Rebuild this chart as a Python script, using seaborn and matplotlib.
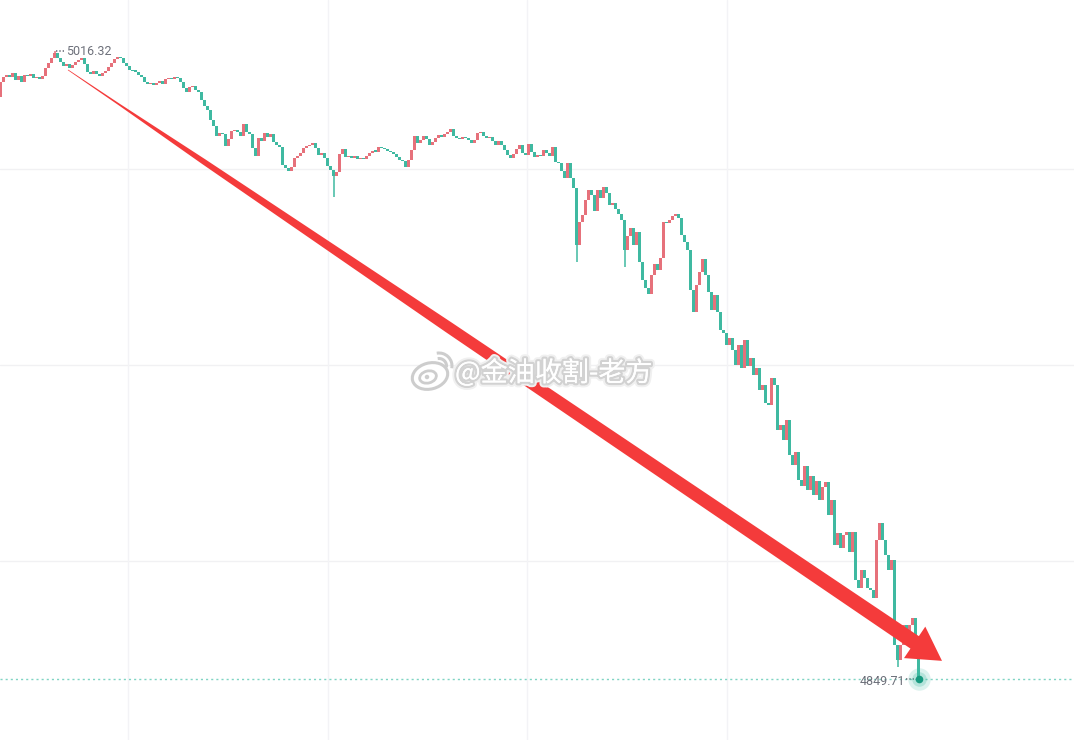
import numpy as np
import pandas as pd
import matplotlib
matplotlib.use("Agg")
import matplotlib.pyplot as plt
import matplotlib.patheffects as pe
from matplotlib.patches import Polygon, Ellipse, Arc
from matplotlib.transforms import IdentityTransform
import seaborn as sns

# ---- datos ----
first_open = 5004.1
closes = [
    5008.1, 5009.4, 5010.0, 5009.4, 5010.5, 5008.6, 5009.7, 5008.1, 5010.0, 5009.7,
    5010.2, 5009.2, 5009.4, 5008.9, 5009.7, 5011.8, 5013.1, 5014.5, 5015.8, 5014.5,
    5013.4, 5012.3, 5012.9, 5011.8, 5012.6, 5013.4, 5013.9, 5014.5, 5012.9, 5010.8,
    5010.2, 5011.0, 5010.2, 5009.7, 5010.5, 5011.0, 5012.1, 5013.1, 5014.2, 5014.7,
    5014.5, 5013.1, 5012.3, 5011.3, 5011.0, 5010.8, 5010.0, 5009.4, 5008.1, 5007.6,
    5007.8, 5007.3, 5007.8, 5008.4, 5007.6, 5008.9, 5009.2, 5008.9, 5009.4, 5009.2,
    5008.1, 5006.5, 5005.4, 5006.8, 5007.0, 5006.0, 5005.4, 5003.3, 5001.7, 5000.7,
    4998.0, 4996.4, 4993.8, 4994.6, 4994.3, 4991.1, 4993.0, 4995.1, 4995.4, 4994.8,
    4993.8, 4997.0, 4994.8, 4994.3, 4990.6, 4988.5, 4993.2, 4992.4, 4994.6, 4993.5,
    4994.3, 4992.2, 4991.4, 4990.9, 4986.1, 4985.3, 4984.5, 4985.5, 4987.9, 4988.5,
    4989.3, 4990.6, 4991.1, 4991.4, 4991.9, 4990.6, 4988.7, 4989.3, 4987.9, 4985.8,
    4984.8, 4983.2, 4984.2, 4989.0, 4990.3, 4988.2, 4988.5, 4987.9, 4988.5, 4987.7,
    4987.9, 4987.7, 4988.5, 4989.3, 4989.8, 4989.6, 4990.9, 4990.6, 4990.3, 4989.8,
    4989.5, 4989.0, 4988.2, 4987.4, 4987.1, 4985.5, 4987.4, 4990.1, 4993.8, 4991.9,
    4992.7, 4993.8, 4993.0, 4991.4, 4992.2, 4993.2, 4994.0, 4993.5, 4994.3, 4994.8,
    4995.6, 4993.8, 4993.2, 4993.0, 4993.5, 4993.2, 4992.7, 4991.9, 4992.7, 4994.6,
    4994.8, 4993.8, 4993.2, 4993.5, 4992.4, 4991.4, 4992.4, 4991.4, 4990.1, 4988.7,
    4987.9, 4989.0, 4990.3, 4991.4, 4989.3, 4988.7, 4991.6, 4989.5, 4988.2, 4988.7,
    4988.5, 4990.1, 4989.3, 4988.5, 4990.9, 4986.9, 4986.6, 4984.5, 4982.6, 4986.6,
    4982.6, 4980.0, 4964.9, 4971.0, 4972.8, 4976.8, 4979.4, 4978.1, 4973.9, 4979.4,
    4977.3, 4980.2, 4978.7, 4975.5, 4976.0, 4974.4, 4973.1, 4971.5, 4963.5, 4967.2,
    4969.4, 4964.9, 4968.3, 4960.3, 4955.6, 4953.4, 4951.9, 4956.9, 4959.8, 4958.2,
    4961.4, 4971.0, 4970.6, 4971.5, 4972.5, 4973.1, 4972.0, 4967.5, 4965.6, 4963.5,
    4952.9, 4947.1, 4954.2, 4957.7, 4961.1, 4956.9, 4952.4, 4947.6, 4951.6, 4947.1,
    4942.3, 4941.5, 4938.3, 4940.2, 4937.0, 4933.0, 4938.3, 4932.2, 4939.7, 4932.8,
    4934.9, 4930.4, 4932.2, 4926.4, 4927.7, 4922.9, 4922.4, 4929.6, 4927.7, 4915.8,
    4917.1, 4913.1, 4918.4, 4909.1, 4906.5, 4909.9, 4902.5, 4900.9, 4906.2, 4899.9,
    4903.6, 4898.5, 4902.2, 4897.2, 4900.6, 4902.0, 4893.2, 4897.2, 4885.3, 4888.4,
    4884.5, 4887.9, 4888.7, 4883.4, 4888.7, 4876.0, 4873.9, 4878.6, 4876.5, 4873.9,
    4873.3, 4871.2, 4886.6, 4891.1, 4886.6, 4882.6, 4878.6, 4881.3, 4858.7, 4854.8,
    4858.7, 4864.0, 4860.1, 4864.0, 4865.9, 4860.6, 4849.71,
]
# mechas largas
high_idx = [18]
high_val = [5016.32]
low_idx = [111, 192, 208, 299]
low_val = [4977.6, 4960.3, 4959.0, 4852.9]

grid_prices = [4985.0, 4933.0, 4881.0]
grid_idx = [42.5, 109.0, 175.5, 242.0]

hi_label = "5016.32"
lo_label = "4849.71"
watermark = "@金油收割-老方"

arrow_start = (22.5, 5011.3)
arrow_tip = (313.8, 4854.5)

color_up = "#e6717b"
color_down = "#3fb9a1"
label_color = "#6d707a"

# ---- preparar ----
df = pd.DataFrame({"close": closes})
df["open"] = [first_open] + closes[:-1]
df["high"] = df[["open", "close"]].max(axis=1)
df["low"] = df[["open", "close"]].min(axis=1)
df.loc[high_idx, "high"] = high_val
df.loc[low_idx, "low"] = low_val
df["x"] = np.arange(len(df))
df["color"] = np.where(df["close"] > df["open"], color_up, color_down)

sns.set_theme(style="white")
plt.rcParams["font.family"] = ["Noto Sans CJK SC", "DejaVu Sans"]

fig = plt.figure(figsize=(10.74, 7.40), dpi=100)
ax = fig.add_axes([0, 0, 1, 1])
ax.set_xlim(-0.17, 357.8)
ax.set_ylim(4833.5, 5029.85)
ax.axis("off")

for p in grid_prices:
    ax.axhline(p, color="#f1f1f3", lw=1, zorder=0)
for g in grid_idx:
    ax.axvline(g, color="#f3f3f6", lw=1, zorder=0)

# velas
body = (df["close"] - df["open"]).abs().clip(lower=0.35)
ax.vlines(df["x"], df["low"], df["high"], colors=df["color"], lw=1.1, zorder=2)
ax.bar(df["x"], body, bottom=df[["open", "close"]].min(axis=1), width=0.86,
       color=df["color"], linewidth=0, zorder=3)

# línea de precio actual
last = df.iloc[-1]
ax.axhline(last["close"], color="#7fd4c3", lw=1, dashes=(1.5, 2.2), zorder=1)

# etiquetas max / min
ax.plot([df["x"][high_idx[0]] + 0.6, 21.4], [high_val[0]] * 2, color=label_color,
        lw=1.2, dashes=(0.8, 1.2), zorder=4)
ax.text(21.8, high_val[0] - 0.2, hi_label, color=label_color, fontsize=9,
        family=["Roboto", "DejaVu Sans"], ha="left", va="center", zorder=5)
ax.plot([301.9, last["x"] - 0.8], [last["close"]] * 2, color=label_color,
        lw=1.2, dashes=(0.8, 1.2), zorder=4)
ax.text(301.5, last["close"] - 0.6, lo_label, color=label_color, fontsize=9,
        family=["Roboto", "DejaVu Sans"], ha="right", va="center", zorder=5)

# punto con halo
dot = pd.DataFrame({"x": [last["x"]], "y": [last["close"]]})
sns.scatterplot(data=dot, x="x", y="y", s=260, color="#3fb9a1", alpha=0.18,
                linewidth=0, ax=ax, zorder=6, legend=False)
sns.scatterplot(data=dot, x="x", y="y", s=110, color="#3fb9a1", alpha=0.25,
                linewidth=0, ax=ax, zorder=6, legend=False)
sns.scatterplot(data=dot, x="x", y="y", s=30, color="#17997f", linewidth=0,
                ax=ax, zorder=7, legend=False)
ax.set_xlim(-0.17, 357.8)
ax.set_ylim(4833.5, 5029.85)

# flecha roja (en píxeles a partir de los puntos de datos)
S = ax.transData.transform(arrow_start)
T = ax.transData.transform(arrow_tip)
u = (T - S) / np.hypot(*(T - S))
n = np.array([-u[1], u[0]])
head_len, head_half = 33, 19
B = T - head_len * u
L = np.hypot(*(B - S))
frac = [0.0, 0.06, 0.16, 0.45, 1.0]
half = [0.35, 0.9, 2.8, 5.6, 7.5]
upper = [S + f * L * u + h * n for f, h in zip(frac, half)]
lower = [S + f * L * u - h * n for f, h in zip(frac, half)][::-1]
pts = upper + [B + head_half * n, T, B - head_half * n] + lower
ax.add_patch(Polygon(pts, closed=True, facecolor="#f43b3b", edgecolor="none",
                     transform=IdentityTransform(), zorder=8))

# marca de agua
ax.text(455 / 1074, 1 - 373 / 740, watermark, transform=ax.transAxes,
        fontsize=19.5, color="white", ha="left", va="center", zorder=10,
        path_effects=[pe.withStroke(linewidth=6, foreground="#f0f0f0"),
                      pe.withStroke(linewidth=3.2, foreground="#d2d2d2"), pe.Normal()])
cx, cy = 430, 740 - 376
gray = "#cdcdcd"
logo = [
    Ellipse((cx, cy), 36, 26, angle=15, facecolor="white", edgecolor=gray, lw=2.2),
    Ellipse((cx - 2, cy - 1), 17, 12, angle=15, facecolor="white", edgecolor=gray, lw=2),
    Ellipse((cx - 3, cy - 1), 4.5, 4.5, facecolor=gray, edgecolor="none"),
    Arc((cx + 9, cy + 10), 15, 15, theta1=-10, theta2=100, edgecolor=gray, lw=2.2),
    Arc((cx + 9, cy + 10), 26, 26, theta1=-10, theta2=100, edgecolor=gray, lw=2.2),
]
for p in logo:
    p.set_transform(IdentityTransform())
    p.set_zorder(10)
    ax.add_patch(p)

fig.savefig("out.png", dpi=100, facecolor="white")
